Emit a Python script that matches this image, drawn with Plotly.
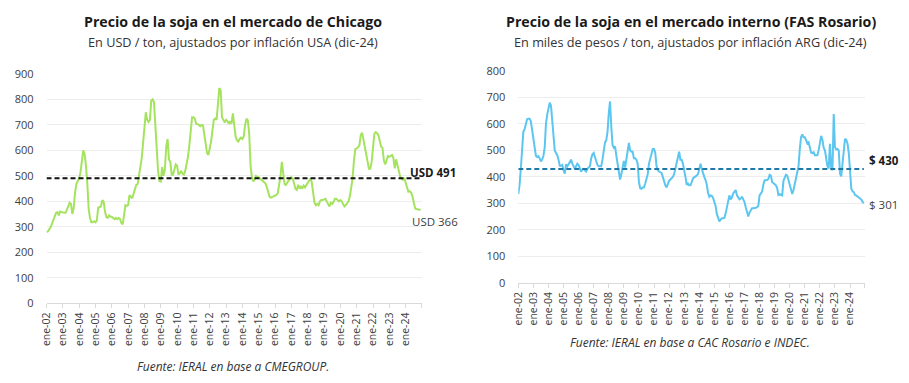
import plotly.graph_objects as go

# ---------------- data (monthly, ene-2002 .. dic-2024) ----------------
TICK_LABELS = ["ene-02", "ene-03", "ene-04", "ene-05", "ene-06", "ene-07", "ene-08",
               "ene-09", "ene-10", "ene-11", "ene-12", "ene-13", "ene-14", "ene-15",
               "ene-16", "ene-17", "ene-18", "ene-19", "ene-20", "ene-21", "ene-22",
               "ene-23", "ene-24"]

chicago_2002_2007 = [
    280, 282, 290, 298, 312, 325, 345, 355, 358, 345, 360, 358,
    355, 355, 355, 365, 380, 395, 390, 350, 375, 435, 470, 480,
    490, 515, 560, 600, 585, 540, 470, 370, 335, 318, 318, 322,
    318, 325, 375, 378, 380, 405, 400, 360, 338, 335, 345, 340,
    340, 335, 330, 335, 330, 335, 332, 315, 310, 345, 385, 382,
    385, 425, 420, 412, 430, 450, 465, 468, 500, 540, 570, 630,
]
chicago_2008_2013 = [
    700, 750, 720, 712, 720, 795, 800, 790, 700, 600, 520, 480,
    478, 535, 500, 525, 615, 645, 565, 555, 505, 505, 530, 545,
    540, 505, 510, 520, 508, 505, 520, 545, 575, 620, 680, 730,
    730, 725, 705, 703, 700, 695, 700, 698, 665, 620, 590, 582,
    605, 635, 680, 720, 725, 720, 780, 845, 838, 730, 720, 710,
    720, 715, 705, 715, 705, 745, 700, 655, 640, 635, 645, 650,
]
chicago_2014_2019 = [
    645, 655, 700, 725, 718, 665, 540, 495, 478, 485, 500, 495,
    495, 490, 485, 480, 475, 470, 455, 430, 418, 415, 418, 422,
    422, 425, 432, 460, 500, 555, 510, 468, 465, 475, 480, 490,
    495, 490, 470, 450, 445, 465, 450, 458, 450, 462, 455, 465,
    470, 485, 490, 475, 440, 395, 385, 390, 385, 400, 405, 405,
    408, 410, 400, 390, 380, 395, 390, 398, 410, 410, 405, 400,
]
chicago_2020_2024 = [
    405, 400, 390, 380, 385, 395, 400, 420, 450, 490, 560, 605,
    608, 612, 620, 660, 670, 640, 605, 580, 555, 528, 528, 555,
    610, 665, 672, 668, 660, 640, 615, 610, 560, 545, 565, 578,
    575, 580, 582, 570, 530, 565, 540, 515, 497, 490, 485, 492,
    475, 450, 438, 440, 435, 420, 390, 372, 370, 368, 366, 366,
]
chicago = chicago_2002_2007 + chicago_2008_2013 + chicago_2014_2019 + chicago_2020_2024

rosario_2002_2007 = [
    335, 370, 430, 500, 570, 580, 600, 618, 620, 620, 610, 580,
    555, 520, 480, 475, 478, 470, 458, 465, 480, 510, 600, 635,
    665, 680, 670, 610, 540, 500, 490, 482, 465, 442, 442, 445,
    425, 412, 448, 440, 448, 455, 465, 450, 438, 430, 440, 450,
    445, 430, 420, 428, 430, 425, 420, 430, 435, 440, 470, 485,
    490, 470, 460, 445, 440, 440, 440, 465, 500, 530, 538, 570,
]
rosario_2008_2013 = [
    640, 685, 590, 520, 510, 515, 480, 445, 410, 390, 410, 440,
    460, 435, 465, 505, 528, 500, 495, 495, 470, 470, 465, 450,
    380, 357, 355, 360, 360, 375, 395, 410, 450, 470, 490, 505,
    505, 490, 440, 425, 420, 418, 415, 400, 380, 368, 360, 375,
    385, 390, 395, 400, 410, 430, 460, 480, 495, 465, 465, 450,
    415, 400, 370, 375, 368, 368, 380, 394, 398, 400, 405, 410,
]
rosario_2014_2019 = [
    430, 450, 430, 410, 400, 388, 370, 340, 325, 330, 328, 320,
    305, 290, 260, 240, 232, 238, 244, 244, 245, 262, 285, 305,
    330, 315, 322, 337, 345, 350, 330, 322, 315, 318, 325, 315,
    305, 285, 262, 250, 265, 275, 281, 281, 281, 283, 285, 290,
    330, 340, 344, 370, 387, 387, 388, 392, 408, 405, 380, 377,
    373, 368, 358, 332, 335, 332, 330, 385, 398, 408, 405, 385,
]
rosario_2020_2024 = [
    365, 345, 335, 350, 372, 392, 415, 440, 505, 550, 560, 550,
    550, 535, 527, 531, 515, 492, 490, 493, 482, 481, 482, 500,
    530, 555, 540, 510, 500, 465, 440, 432, 525, 432, 425, 637,
    512, 503, 505, 500, 412, 402, 450, 525, 544, 540, 525, 490,
    400, 355, 345, 342, 331, 330, 326, 323, 319, 314, 305, 301,
]
rosario = rosario_2002_2007 + rosario_2008_2013 + rosario_2014_2019 + rosario_2020_2024

CHICAGO_AVG = 491
ROSARIO_AVG = 430
CHICAGO_LAST = 366
ROSARIO_LAST = 301

# ---------------- figure ----------------
W, H = 909, 383
def px(x):
    return x / W
def py(y):
    return 1 - y / H

x_idx = list(range(len(chicago)))
tick_pos = [12 * i for i in range(len(TICK_LABELS))]

GREEN = "#a5e35f"
BLUE = "#5cc6f0"
TEAL = "#1f78a6"
FONT = "Open Sans"
TXT = "#404040"

fig = go.Figure()
fig.add_trace(go.Scatter(x=x_idx, y=chicago, mode="lines",
                         line=dict(color=GREEN, width=2), xaxis="x", yaxis="y",
                         hoverinfo="skip"))
fig.add_trace(go.Scatter(x=x_idx, y=[CHICAGO_AVG] * len(x_idx), mode="lines",
                         line=dict(color="#111111", width=2, dash="5px,3px"),
                         xaxis="x", yaxis="y", hoverinfo="skip"))
fig.add_trace(go.Scatter(x=x_idx, y=rosario, mode="lines",
                         line=dict(color=BLUE, width=2), xaxis="x2", yaxis="y2",
                         hoverinfo="skip"))
fig.add_trace(go.Scatter(x=x_idx, y=[ROSARIO_AVG] * len(x_idx), mode="lines",
                         line=dict(color=TEAL, width=2, dash="5px,3px"),
                         xaxis="x2", yaxis="y2", hoverinfo="skip"))

xcommon = dict(showgrid=False, zeroline=False, showline=True, linecolor="#d9d9d9",
               linewidth=1, ticks="outside", ticklen=4, tickcolor="#d9d9d9",
               tickangle=-90, tickfont=dict(family=FONT, size=10.5, color=TXT),
               tickmode="array", automargin=False)
ycommon = dict(showgrid=True, gridcolor="#ededed", gridwidth=1, zeroline=False,
               showline=False, ticks="", tickfont=dict(family=FONT, size=11, color=TXT),
               dtick=100, ticklabelstandoff=12, automargin=False)

fig.update_layout(
    width=W, height=H, margin=dict(l=0, r=0, t=0, b=0, pad=0),
    paper_bgcolor="white", plot_bgcolor="white", showlegend=False,
    xaxis=dict(domain=[px(46.5), px(421.7)], range=[0, 275.8], anchor="y",
               tickvals=tick_pos + [275.8], ticktext=TICK_LABELS + [""], **xcommon),
    yaxis=dict(domain=[py(303.3), py(74)], range=[0, 900], anchor="x", **ycommon),
    xaxis2=dict(domain=[px(518.3), px(864.5)], range=[0, 275.5], anchor="y2",
                tickvals=tick_pos + [275.5], ticktext=TICK_LABELS + [""], **xcommon),
    yaxis2=dict(domain=[py(282.7), py(71)], range=[0, 800], anchor="x2", **ycommon),
)

def note(text, x, y, size, bold=False, italic=False, color="#222222", anchor="center"):
    fig.add_annotation(text=text, x=px(x), y=py(y), xref="paper", yref="paper",
                       xanchor=anchor, yanchor="middle", showarrow=False,
                       font=dict(family=FONT, size=size, color=color,
                                 weight="bold" if bold else "normal",
                                 style="italic" if italic else "normal"))

note("Precio de la soja en el mercado de Chicago", 233, 21.5, 14.2, bold=True, color="#1a1a1a")
note("En USD / ton, ajustados por inflación USA (dic-24)", 233, 41.5, 12.7, color="#333333")
note("Precio de la soja en el mercado interno (FAS Rosario)", 691, 21.5, 14.2, bold=True, color="#1a1a1a")
note("En miles de pesos / ton, ajustados por inflación ARG (dic-24)", 690, 41.5, 12.7, color="#333333")
note("Fuente: IERAL en base a CMEGROUP.", 233, 366.5, 12, italic=True, color="#333333")
note("Fuente: IERAL en base a CAC Rosario e INDEC.", 690, 342, 12, italic=True, color="#333333")

note(f"USD {CHICAGO_AVG}", 408, 172, 11.5, bold=True, anchor="left", color="#1a1a1a")
note(f"USD {CHICAGO_LAST}", 410, 221.5, 11.5, anchor="left", color="#404040")
note(f"$ {ROSARIO_AVG}", 867, 160, 11.5, bold=True, anchor="left", color="#1a1a1a")
note(f"$ {ROSARIO_LAST}", 867, 204, 11.5, anchor="left", color="#404040")

fig.write_html("out.html", config={"displayModeBar": False},
               post_script="document.body.style.margin='0px';document.body.style.padding='0px';")
